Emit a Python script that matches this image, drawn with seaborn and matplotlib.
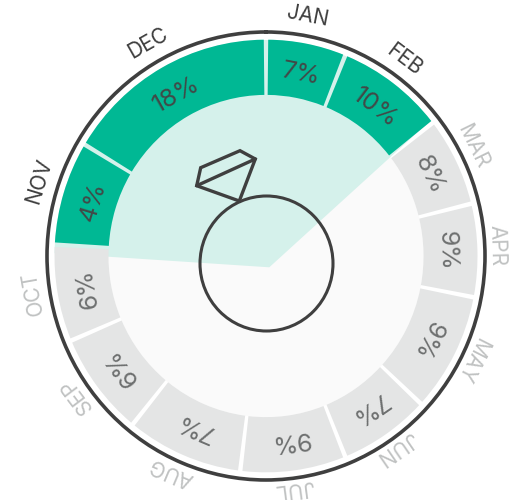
import numpy as np
import matplotlib
matplotlib.use("Agg")
import matplotlib.pyplot as plt
from matplotlib.patches import Ellipse, Polygon
import seaborn as sns

#DATA
months = ['JAN', 'FEB', 'MAR', 'APR', 'MAY', 'JUN', 'JUL', 'AUG', 'SEP', 'OCT', 'NOV', 'DEC']
pct_labels = [7, 10, 8, 9, 9, 7, 9, 7, 6, 6, 4, 18]
# slice sizes in degrees (they don't follow the printed %)
slice_deg = [22, 30, 24, 25, 32, 25, 29, 32, 28, 26, 28, 59]
highlight = ['NOV', 'DEC', 'JAN', 'FEB']

GREEN = '#00b894'
MINT = '#d5f1eb'
GREY = '#e4e5e5'
DARK = '#3f3f3f'
SOFT = '#c0c2c2'

sns.set_theme(style="white")
plt.rcParams['font.family'] = ['Inter', 'DejaVu Sans']

fig = plt.figure(figsize=(5.17, 5.0), dpi=100)

#BACKGROUND LAYER (pixel coordinates)
bg = fig.add_axes([0, 0, 1, 1])
bg.set_xlim(0, 517)
bg.set_ylim(500, 0)
bg.axis('off')
bg.add_patch(Ellipse((266, 256), 315, 322, fc='#fafafa', ec='none'))
clip = Ellipse((266, 256), 423, 432, fc='none', ec='none')
bg.add_patch(clip)
wedge = Polygon([(269.3, 267.3), (470, 84.6), (470, 0), (0, 0), (0, 249.6)], fc=MINT, ec='none')
bg.add_patch(wedge)
wedge.set_clip_path(clip)

#RING ICON
bg.add_patch(Ellipse((266.5, 263.5), 133, 135, fc='none', ec=DARK, lw=2.2))
stone = [(196.7, 185.7), (200.7, 167.7), (240, 150.7), (255.3, 159), (239.3, 201)]
bg.add_patch(Polygon(stone, closed=True, fc='none', ec=DARK, lw=2.4, joinstyle='miter'))
bg.plot([196.7, 255.3], [185.7, 159], color=DARK, lw=2.4)

#RADIAL BARS
ax = fig.add_axes([47 / 517, 20 / 500, 438 / 517, 448 / 500], projection='polar')
ax.set_theta_zero_location('N')
ax.set_theta_direction(-1)

edges = np.concatenate([[0], np.cumsum(slice_deg)])
centers = (edges[:-1] + edges[1:]) / 2
inner, outer = 157.5, 211.5
gap = 1.2

for m, c, w in zip(months, centers, slice_deg):
    col = GREEN if m in highlight else GREY
    sns.barplot(x=[np.deg2rad(c)], y=[outer - inner], native_scale=True,
                width=np.deg2rad(w - gap), bottom=inner, color=col,
                saturation=1, linewidth=0, ax=ax)

ax.set_aspect('auto')
ax.patch.set_alpha(0)
ax.set_ylim(0, 219)
ax.set_xlim(0, 2 * np.pi)
ax.set_xticks([])
ax.set_yticks([])
ax.set_xlabel('')
ax.set_ylabel('')
ax.grid(False)
ax.spines['polar'].set_color(DARK)
ax.spines['polar'].set_linewidth(2.6)

#LABELS
for m, p, c in zip(months, pct_labels, centers):
    on = m in highlight
    ax.text(np.deg2rad(c), 181, f'{p}%', rotation=-c, rotation_mode='anchor',
            ha='center', va='center', fontsize=18,
            color='#404a48' if on else '#6e7070')
    # month labels sit on a circle a bit up and left of the bars
    ax.annotate(m, (np.deg2rad(c), 234), xytext=(-2.2, 3.4), textcoords='offset points',
                rotation=-c, rotation_mode='anchor', ha='center', va='center',
                fontsize=15, color=DARK if on else SOFT,
                annotation_clip=False)

plt.savefig('out.png', dpi=100)
